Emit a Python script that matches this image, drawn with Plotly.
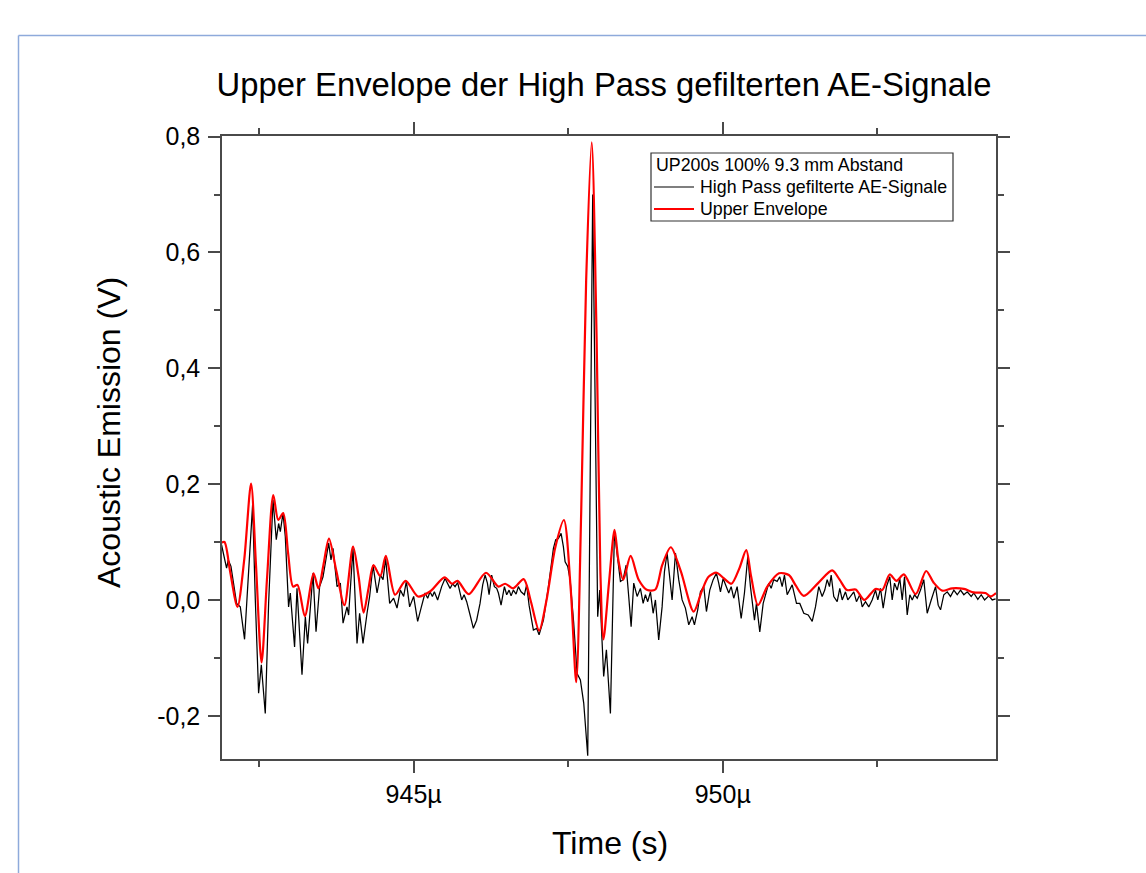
import plotly.graph_objects as go

# ---- data (time in µs, amplitude in V) ----
black_t = [941.893, 941.948, 941.974, 942.002, 942.045, 942.136, 942.196, 942.265, 942.325, 942.395,
           942.439, 942.492, 942.536, 942.600, 942.654, 942.725, 942.778, 942.816, 942.843, 942.887,
           942.924, 942.977, 943.005, 943.074, 943.113, 943.194, 943.248, 943.285, 943.372, 943.421,
           943.479, 943.534, 943.625, 943.663, 943.696, 943.761, 943.814, 943.858, 943.922, 943.948,
           944.019, 944.084, 944.126, 944.181, 944.246, 944.288, 944.343, 944.408, 944.461, 944.505,
           944.547, 944.612, 944.676, 944.731, 944.785, 944.838, 944.882, 944.935, 945.000, 945.065,
           945.120, 945.184, 945.227, 945.265, 945.303, 945.335, 945.388, 945.453, 945.508, 945.550,
           945.589, 945.631, 945.670, 945.712, 945.777, 945.816, 945.858, 945.913, 945.966, 946.019,
           946.074, 946.117, 946.155, 946.193, 946.220, 946.262, 946.306, 946.343, 946.371, 946.414,
           946.468, 946.505, 946.544, 946.576, 946.613, 946.657, 946.694, 946.738, 946.791, 946.828,
           946.867, 946.937, 946.990, 947.029, 947.099, 947.180, 947.233, 947.261, 947.298, 947.341,
           947.385, 947.422, 947.450, 947.492, 947.531, 947.589, 947.644, 947.697, 947.751, 947.816,
           947.896, 947.977, 948.010, 948.074, 948.118, 948.183, 948.248, 948.301, 948.345, 948.388,
           948.437, 948.479, 948.518, 948.560, 948.615, 948.668, 948.712, 948.749, 948.786, 948.830,
           948.874, 948.911, 948.964, 949.019, 949.057, 949.100, 949.142, 949.181, 949.235, 949.288,
           949.343, 949.396, 949.450, 949.505, 949.542, 949.595, 949.639, 949.693, 949.736, 949.790,
           949.845, 949.898, 949.935, 949.963, 950.006, 950.060, 950.097, 950.136, 950.178, 950.233,
           950.298, 950.351, 950.405, 950.448, 950.513, 950.545, 950.599, 950.654, 950.707, 950.744,
           950.783, 950.825, 950.880, 950.922, 950.961, 950.998, 951.042, 951.123, 951.193, 951.246,
           951.311, 951.382, 951.447, 951.500, 951.553, 951.608, 951.650, 951.689, 951.726, 951.754,
           951.796, 951.851, 951.893, 951.932, 951.985, 952.023, 952.066, 952.120, 952.163, 952.217,
           952.256, 952.309, 952.362, 952.417, 952.471, 952.508, 952.552, 952.595, 952.649, 952.702,
           952.741, 952.778, 952.822, 952.864, 952.903, 952.940, 952.984, 953.026, 953.065, 953.102,
           953.146, 953.199, 953.252, 953.307, 953.372, 953.442, 953.485, 953.523, 953.576, 953.631,
           953.684, 953.738, 953.793, 953.846, 953.900, 953.955, 954.019, 954.061, 954.126, 954.181,
           954.235, 954.304, 954.359, 954.413]
black_v = [0.095, 0.063, 0.055, 0.069, 0.058, -0.006, -0.012, -0.068, 0.040, 0.164,
           0.0, -0.161, -0.112, -0.196, -0.006, 0.173, 0.104, 0.132, 0.118, 0.150,
           0.109, -0.012, 0.012, -0.081, 0.020, -0.129, -0.029, -0.075, 0.046, -0.055,
           0.023, 0.040, 0.098, 0.069, 0.089, 0.023, 0.029, -0.040, -0.012, -0.026,
           0.089, -0.075, -0.023, -0.075, -0.023, 0.006, 0.060, 0.012, 0.043, 0.035,
           0.072, -0.006, 0.003, -0.014, 0.017, 0.006, 0.032, -0.012, 0.006, -0.037,
           -0.014, 0.012, 0.003, 0.014, 0.006, 0.014, 0.0, 0.023, 0.037, 0.029,
           0.020, 0.028, 0.023, 0.030, 0.0, 0.009, -0.003, -0.026, -0.049, -0.035,
           -0.006, 0.026, 0.043, 0.029, 0.009, 0.043, 0.023, 0.020, 0.012, -0.009,
           0.023, 0.009, 0.017, 0.007, 0.017, 0.010, 0.023, 0.014, 0.009, 0.026,
           -0.009, -0.052, -0.049, -0.060, -0.035, 0.023, 0.069, 0.089, 0.104, 0.106,
           0.115, 0.092, 0.066, 0.058, 0.035, -0.040, -0.127, -0.138, -0.178, -0.269,
           0.700, -0.029, 0.017, -0.132, -0.086, -0.196, 0.118, 0.075, 0.032, 0.035,
           0.060, 0.006, -0.046, 0.029, 0.006, 0.020, -0.006, 0.009, -0.003, 0.014,
           -0.023, 0.0, -0.069, -0.012, 0.049, 0.081, 0.040, 0.0, 0.081, 0.035,
           0.0, -0.014, -0.043, -0.029, -0.043, -0.017, 0.014, 0.023, -0.020, 0.017,
           0.035, 0.046, 0.029, 0.014, 0.037, 0.023, 0.012, 0.023, 0.003, 0.023,
           -0.032, 0.012, 0.075, 0.023, -0.035, -0.006, -0.055, -0.006, 0.017, 0.029,
           0.020, 0.035, 0.032, 0.040, 0.023, 0.043, 0.009, 0.026, -0.006, -0.006,
           -0.023, -0.026, -0.037, -0.012, 0.023, 0.006, 0.017, 0.035, 0.023, 0.043,
           0.006, -0.003, 0.020, 0.0, 0.014, 0.0, 0.006, 0.014, -0.003, 0.009,
           -0.012, -0.003, -0.012, 0.0, 0.017, 0.0, 0.020, -0.014, 0.023, 0.040,
           0.0, 0.029, 0.017, 0.037, 0.0, 0.040, -0.026, 0.009, 0.0, 0.009,
           0.003, 0.017, 0.035, -0.023, 0.0, 0.023, -0.009, -0.017, 0.009, 0.014,
           0.006, 0.017, 0.009, 0.017, 0.009, 0.014, 0.006, 0.012, 0.001, 0.009,
           0.0, 0.007, 0.0, 0.002]

red_t = [941.89, 941.94, 942.03, 942.15, 942.26, 942.37, 942.45, 942.54, 942.63, 942.73,
         942.81, 942.89, 942.97, 943.05, 943.12, 943.24, 943.38, 943.46, 943.54, 943.63,
         943.75, 943.88, 944.02, 944.11, 944.19, 944.27, 944.35, 944.46, 944.55, 944.70,
         944.87, 945.07, 945.27, 945.50, 945.62, 945.71, 945.89, 946.17, 946.37, 946.48,
         946.61, 946.78, 946.89, 947.03, 947.15, 947.29, 947.43, 947.54, 947.63, 947.71,
         947.79, 947.88, 947.96, 948.02, 948.07, 948.16, 948.25, 948.31, 948.39, 948.51,
         948.64, 948.78, 948.91, 949.02, 949.16, 949.32, 949.53, 949.66, 949.77, 949.90,
         950.01, 950.14, 950.27, 950.38, 950.46, 950.57, 950.72, 950.91, 951.07, 951.18,
         951.31, 951.55, 951.77, 951.89, 952.01, 952.15, 952.29, 952.47, 952.58, 952.70,
         952.81, 952.93, 953.12, 953.29, 953.41, 953.55, 953.71, 953.90, 954.06, 954.25,
         954.33, 954.42]
red_v = [0.099, 0.100, 0.05, -0.012, 0.07, 0.201, 0.06, -0.108, 0.04, 0.181,
         0.138, 0.150, 0.08, 0.023, 0.026, -0.028, 0.046, 0.020, 0.06, 0.106,
         0.05, -0.009, 0.092, 0.04, -0.022, 0.02, 0.060, 0.041, 0.076, 0.009,
         0.033, 0.006, 0.015, 0.039, 0.028, 0.033, 0.010, 0.047, 0.023, 0.028,
         0.020, 0.036, 0.0, -0.053, 0.0, 0.09, 0.138, 0.02, -0.142, 0.15,
         0.55, 0.790, 0.45, 0.05, -0.068, 0.03, 0.121, 0.07, 0.035, 0.076,
         0.035, 0.017, 0.018, 0.06, 0.091, 0.05, -0.020, 0.015, 0.04, 0.047,
         0.038, 0.028, 0.055, 0.086, 0.04, -0.009, 0.023, 0.046, 0.043, 0.025,
         0.007, 0.03, 0.051, 0.035, 0.017, 0.018, 0.0, 0.019, 0.017, 0.044,
         0.033, 0.044, 0.010, 0.050, 0.03, 0.016, 0.020, 0.019, 0.013, 0.012,
         0.006, 0.012]

series_names = ["High Pass gefilterte AE-Signale", "Upper Envelope"]
legend_title = "UP200s 100% 9.3 mm Abstand"
x_tick_vals = [945, 950]
x_tick_text = ["945µ", "950µ"]
x_minor_vals = [942.5, 947.5, 952.5]
y_tick_vals = [0.8, 0.6, 0.4, 0.2, 0.0, -0.2]
y_tick_text = ["0,8", "0,6", "0,4", "0,2", "0,0", "-0,2"]
y_minor_vals = [0.7, 0.5, 0.3, 0.1, -0.1]

FONT = "Arial, 'Liberation Sans', sans-serif"
AXC = "#4a4a4a"
L, R, T, B = 222, 150, 136, 114
W, H = 1146, 873
PW, PH = W - L - R, H - T - B


def px(xp):
    return (xp - L) / PW


def py(yp):
    return (H - B - yp) / PH


fig = go.Figure()
fig.add_trace(go.Scatter(x=black_t, y=black_v, mode="lines", name=series_names[0],
                         showlegend=False, line=dict(color="black", width=1.25)))
fig.add_trace(go.Scatter(x=red_t, y=red_v, mode="lines", name=series_names[1],
                         showlegend=False,
                         line=dict(color="#ff0000", width=2.2, shape="spline", smoothing=0.8)))

axis_common = dict(showgrid=False, zeroline=False, showline=True, linecolor=AXC, linewidth=1.5,
                   mirror="ticks", ticks="outside", tickcolor=AXC, tickwidth=1.5, ticklen=12,
                   tickfont=dict(family=FONT, size=25, color="black"))

fig.update_xaxes(range=[941.90, 954.42], tickmode="array", tickvals=x_tick_vals, ticktext=x_tick_text,
                 minor=dict(tickmode="array", tickvals=x_minor_vals, ticks="outside", ticklen=6,
                            tickcolor=AXC, tickwidth=1.5),
                 **axis_common)
fig.update_yaxes(range=[-0.2746, 0.801], tickmode="array", tickvals=y_tick_vals, ticktext=y_tick_text,
                 minor=dict(tickmode="array", tickvals=y_minor_vals, ticks="outside", ticklen=6,
                            tickcolor=AXC, tickwidth=1.5),
                 ticklabelstandoff=3,
                 **axis_common)

legend_font = dict(family=FONT, size=17.8, color="black")

fig.update_layout(
    width=W, height=H,
    margin=dict(l=L, r=R, t=T, b=B),
    paper_bgcolor="white", plot_bgcolor="white",
    font=dict(family=FONT, color="black"),
    title=dict(text="Upper Envelope der High Pass gefilterten AE-Signale",
               font=dict(family=FONT, size=32.8, color="black"),
               xref="container", yref="container", x=604 / W, y=1 - 85 / H,
               xanchor="center", yanchor="middle"),
    showlegend=False,
    annotations=[
        dict(text="Time (s)", xref="paper", yref="paper", x=px(610), y=py(843),
             xanchor="center", yanchor="middle", showarrow=False,
             font=dict(family=FONT, size=32, color="black")),
        dict(text="Acoustic Emission (V)", xref="paper", yref="paper", x=px(109), y=py(433),
             xanchor="center", yanchor="middle", showarrow=False, textangle=-90,
             font=dict(family=FONT, size=32, color="black")),
        dict(text=legend_title, xref="paper", yref="paper", x=px(654), y=py(165),
             xanchor="left", yanchor="middle", showarrow=False, font=legend_font),
        dict(text=series_names[0], xref="paper", yref="paper", x=px(698), y=py(187),
             xanchor="left", yanchor="middle", showarrow=False, font=legend_font),
        dict(text=series_names[1], xref="paper", yref="paper", x=px(698), y=py(209),
             xanchor="left", yanchor="middle", showarrow=False, font=legend_font),
    ],
    shapes=[
        # page frame
        dict(type="line", xref="paper", yref="paper", x0=px(18.5), x1=px(W),
             y0=py(35.5), y1=py(35.5), line=dict(color="#8eaadb", width=1.5)),
        dict(type="line", xref="paper", yref="paper", x0=px(18.5), x1=px(18.5),
             y0=py(35.5), y1=py(H), line=dict(color="#8eaadb", width=1.5)),
        # legend box and samples
        dict(type="rect", xref="paper", yref="paper", x0=px(651), x1=px(953), y0=py(221), y1=py(153),
             fillcolor="white", line=dict(color="#333333", width=1.2), layer="above"),
        dict(type="line", xref="paper", yref="paper", x0=px(654), x1=px(694), y0=py(187), y1=py(187),
             line=dict(color="black", width=1.2)),
        dict(type="line", xref="paper", yref="paper", x0=px(654), x1=px(694), y0=py(209), y1=py(209),
             line=dict(color="#ff0000", width=2)),
    ],
)

fig.write_html("out.html")
